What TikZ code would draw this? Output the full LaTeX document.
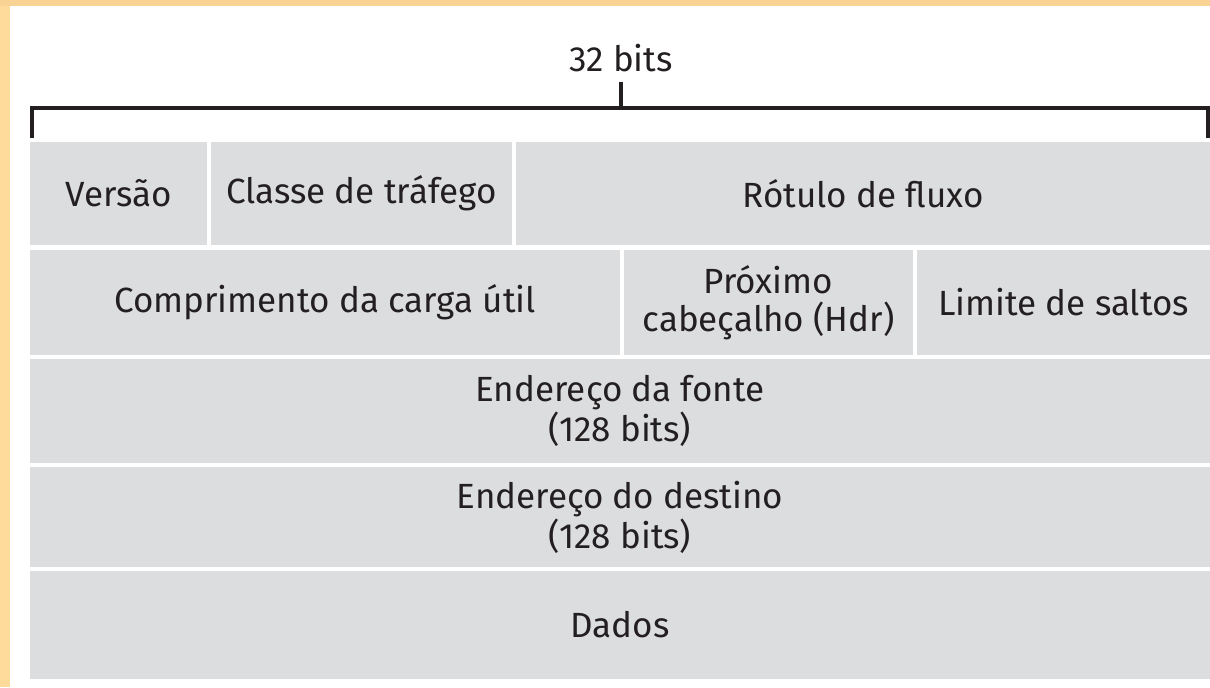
\documentclass[tikz,border=0pt]{standalone}
\usepackage{fontspec}
\setmainfont{Fira Sans}
\usepackage{xcolor}
\usetikzlibrary{fit}
\definecolor{frametop}{HTML}{F8D394}
\definecolor{frameleft}{HTML}{FEDA9B}
\definecolor{cellgray}{HTML}{DCDDDF}
\definecolor{inkdark}{HTML}{231F20}
\tikzset{
  cell/.style={fill=cellgray, draw=none, inner sep=0pt},
  every label/.style={align=center, text=inkdark, inner sep=0pt,
    font=\fontsize{17.5}{19}\selectfont},
  bracket/.style={draw=inkdark, line width=2pt}
}
\begin{document}
\begin{tikzpicture}[x=0.5pt, y=-0.5pt]
      \useasboundingbox (0,0) rectangle (1210,687);
      \fill[white] (0,0) rectangle (1210,687);
      \fill[frametop] (0,0) rectangle (1210,6);
      \fill[frameleft] (0,6) rectangle (10,687);

      % Width label
      \node[text=inkdark, font=\fontsize{17.5}{19}\selectfont] (bits) at (621,58) {32 bits};
      \coordinate (tick) at (621,82);
      \coordinate (bl) at (32,138);
      \coordinate (br) at (1208,138);
      \draw[bracket] (tick) -- (621,108);
      \draw[bracket] (bl) -- (32,108) -- (1208,108) -- (br);

      % Row 1
      \node[cell, fit={(30,142) (207,245)}, label=center:Versão] (versao) {};
      \node[cell, fit={(211,142) (512,245)}, label=center:Classe de tráfego] (classe) {};
      \node[cell, fit={(516,142) (1210,245)}, label=center:Rótulo de fluxo] (rotulo) {};

      % Row 2
      \node[cell, fit={(30,250) (620,355)}, label=center:Comprimento da carga útil] (comprimento) {};
      \node[cell, fit={(624,250) (913,355)}, label={center:Próximo\\cabeçalho (Hdr)}] (proximo) {};
      \node[cell, fit={(917,250) (1210,355)}, label=center:Limite de saltos] (limite) {};

      % Addresses and payload
      \node[cell, fit={(30,359) (1210,463)}, label={center:Endereço da fonte\\(128 bits)}] (fonte) {};
      \node[cell, fit={(30,467) (1210,567)}, label={center:Endereço do destino\\(128 bits)}] (destino) {};
      \node[cell, fit={(30,571) (1210,679)}, label=center:Dados] (dados) {};
    \end{tikzpicture}
\end{document}
